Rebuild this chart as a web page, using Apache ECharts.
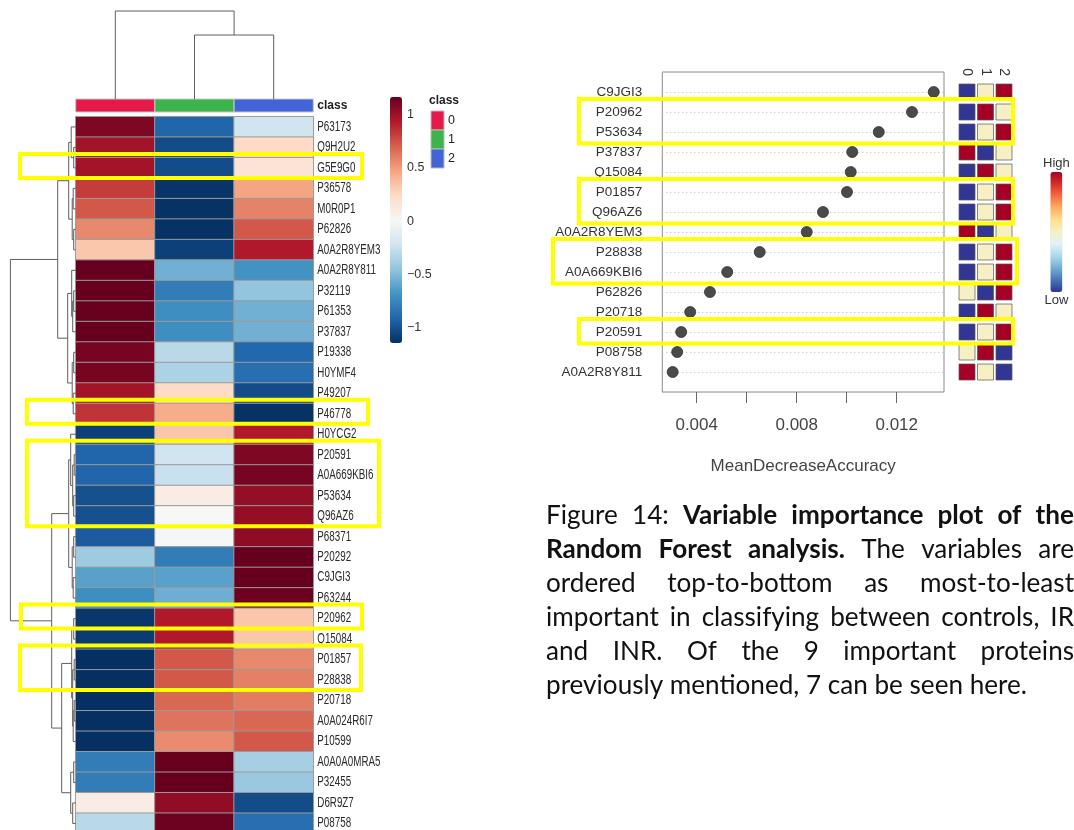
<!DOCTYPE html>
<html><head><meta charset="utf-8">
<script src="https://cdn.jsdelivr.net/npm/echarts@6/dist/echarts.min.js"></script>
<style>html,body{margin:0;padding:0;background:#fff}#c{width:1074px;height:830px}</style>
</head><body><div id="c"></div>
<script>
// ---------------- DATA ----------------
const heatRows = ['P63173','Q9H2U2','G5E9G0','P36578','M0R0P1','P62826','A0A2R8YEM3','A0A2R8Y811','P32119','P61353','P37837','P19338','H0YMF4','P49207','P46778','H0YCG2','P20591','A0A669KBI6','P53634','Q96AZ6','P68371','P20292','C9JGI3','P63244','P20962','Q15084','P01857','P28838','P20718','A0A024R6I7','P10599','A0A0A0MRA5','P32455','D6R9Z7','P08758'];
const classes = ['0','1','2'];
const heatClass0 = [1.10,0.98,0.98,0.82,0.73,0.57,0.33,1.17,1.17,1.17,1.17,1.12,1.12,0.98,0.85,-1.08,-0.92,-0.92,-1.01,-1.01,-0.96,-0.41,-0.62,-0.71,-1.12,-1.10,-1.15,-1.15,-1.15,-1.15,-1.15,-0.80,-0.80,0.10,-0.31];
const heatClass1 = [-0.92,-1.03,-1.03,-1.13,-1.14,-1.14,-1.08,-0.55,-0.80,-0.71,-0.71,-0.31,-0.36,0.24,0.44,0.33,-0.22,-0.25,0.10,0.01,0.0,-0.80,-0.62,-0.56,0.94,0.94,0.73,0.73,0.68,0.64,0.56,1.17,1.17,1.04,1.15];
const heatClass2 = [-0.22,0.24,0.17,0.47,0.59,0.73,0.94,-0.69,-0.45,-0.55,-0.55,-0.91,-0.87,-1.03,-1.14,0.94,1.10,1.12,1.03,1.03,1.05,1.17,1.17,1.15,0.33,0.33,0.57,0.60,0.61,0.68,0.73,-0.38,-0.43,-1.03,-0.87];
const colorbarTicks = [1, 0.5, 0, -0.5, -1];
// dendrograms: [height, left, right]; leaves are row/column indices
const rowTree = [65.3,
  [18,
    [7, [4.5, 0, [2, 1, 2]], [3.5, [2.5, 3, 4], [2, 5, 6]]],
    [8, [4, 7, [3, [2, 8, 9], 10]], [3.5, [2, 11, 12], [2.5, 13, 14]]]],
  [24,
    [7, [5, 15, [3, [1.5, 16, 17], [2, 18, 19]]], [3.5, [2, 20, 21], [2.5, 22, 23]]],
    [14, [4, [2, 24, 25], [3, [1.5, 26, 27], [2.5, [1.5, 28, 29], 30]]], [5, [2, 31, 32], [3, 33, 34]]]]];
const colTree = [88, 0, [64, 1, 2]];

const impVars = ['C9JGI3','P20962','P53634','P37837','Q15084','P01857','Q96AZ6','A0A2R8YEM3','P28838','A0A669KBI6','P62826','P20718','P20591','P08758','A0A2R8Y811'];
const impValues = [0.01348,0.01261,0.01128,0.01022,0.01016,0.01001,0.00905,0.0084,0.00652,0.00522,0.00453,0.00374,0.00338,0.00322,0.00304];
// rank of each class within a variable (1 = low, 2 = mid, 3 = high)
const impRank0 = [1,1,1,3,1,1,1,3,1,1,2,1,1,2,3];
const impRank1 = [2,3,2,1,3,2,2,1,2,2,1,3,2,3,2];
const impRank2 = [3,2,3,2,2,3,3,2,3,3,3,2,3,1,1];
const impTicks = [0.004,0.006,0.008,0.010,0.012];
const impTickLabels = [0.004,0.008,0.012];
const heatHighlights = [['G5E9G0','G5E9G0'],['P46778','P46778'],['P20591','Q96AZ6'],['P20962','P20962'],['P01857','P28838']];
const impHighlights = [['P20962','P53634'],['P01857','Q96AZ6'],['P28838','A0A669KBI6'],['P20591','P20591']];
const captionLines = [
  [['Figure 14:', false], ['Variable importance plot of the', true]],
  [['Random Forest analysis.', true], ['The variables are', false]],
  [['ordered top-to-bottom as most-to-least', false]],
  [['important in classifying between controls, IR', false]],
  [['and INR. Of the 9 important proteins', false]],
  [['previously mentioned, 7 can be seen here.', false]]
];

// ---------------- STYLE / LAYOUT ----------------
const classColors = ['#e6194b','#3cb44b','#4363d8'];
const RdBu = ['#053061','#2166ac','#4393c3','#92c5de','#d1e5f0','#f7f7f7','#fddbc7','#f4a582','#d6604d','#b2182b','#67001f'];
const RdYlBu = ['#313695','#4575b4','#74add1','#abd9e9','#e0f3f8','#f6f0c4','#fee090','#fdae61','#f46d43','#d73027','#a50026'];
const HM = {left:75.7, top:116.7, width:237.6, height:717};
const heatBoxX = [[20,362],[27,368],[27,379],[21,362],[20,361]];
const impBoxX = [[579,1013],[579,1013],[553,1017],[579,1013]];
const SANS = 'Liberation Sans, Arial, sans-serif';
const NARROW = 'Liberation Sans Narrow, Liberation Sans, sans-serif';

const heatData = [];
heatRows.forEach((r, i) => {
  heatData.push([0, i, heatClass0[i]], [1, i, heatClass1[i]], [2, i, heatClass2[i]]);
});
const impHeat = [];
impVars.forEach((v, i) => { impHeat.push([0, i, impRank0[i]], [1, i, impRank1[i]], [2, i, impRank2[i]]); });

function dendroSegs(node, segs) {
  if (typeof node === 'number') return {p: node, h: 0};
  const a = dendroSegs(node[1], segs), b = dendroSegs(node[2], segs), h = node[0];
  segs.push([[h, a.p], [h, b.p]]);
  segs.push([[h, a.p], [a.h, a.p]]);
  segs.push([[h, b.p], [b.h, b.p]]);
  return {p: (a.p + b.p) / 2, h: h};
}
function dendroRender(tree, swap) {
  return function (params, api) {
    const segs = []; dendroSegs(tree, segs);
    return {type: 'group', children: segs.map(s => {
      const a = swap ? [s[0][1], s[0][0]] : s[0], b = swap ? [s[1][1], s[1][0]] : s[1];
      const p1 = api.coord(a), p2 = api.coord(b);
      return {type: 'line', shape: {x1: p1[0], y1: p1[1], x2: p2[0], y2: p2[1]}, style: {stroke: '#5e5e5e', lineWidth: 1}};
    })};
  };
}
const hidden = {show: false};
const noAxis = {axisLine: {show: false, onZero: false}, axisTick: hidden, splitLine: hidden};

const option = {
  backgroundColor: '#ffffff',
  animation: false,
  grid: [
    {left: HM.left, top: HM.top, width: HM.width, height: HM.height, outerBoundsMode: 'none'},             //0 heatmap
    {left: HM.left, top: 99, width: HM.width, height: 13, outerBoundsMode: 'none'},                        //1 class bar
    {left: HM.left, top: 0, width: HM.width, height: 99, outerBoundsMode: 'none'},                         //2 top dendro
    {left: 0, top: HM.top, width: HM.left, height: HM.height, outerBoundsMode: 'none'},                    //3 left dendro
    {left: 402, top: 97, width: 1, height: 246, outerBoundsMode: 'none'},                                  //4 colorbar labels
    {left: 662.3, top: 72, width: 281.7, height: 320, show: true, borderColor: '#8a8a8a', borderWidth: 1, outerBoundsMode: 'none'}, //5 dot plot
    {left: 957.75, top: 82, width: 55.5, height: 300, outerBoundsMode: 'none'},                            //6 small heat
    {left: 431, top: 111, width: 13, height: 57, outerBoundsMode: 'none'}                                  //7 class legend
  ],
  xAxis: [
    Object.assign({type: 'category', gridIndex: 0, data: classes, axisLabel: hidden}, noAxis),
    Object.assign({type: 'category', gridIndex: 1, data: classes, axisLabel: hidden}, noAxis),
    Object.assign({type: 'value', gridIndex: 2, min: -0.5, max: 2.5, axisLabel: hidden}, noAxis),
    Object.assign({type: 'value', gridIndex: 3, min: 0, max: HM.left, inverse: true, axisLabel: hidden}, noAxis),
    Object.assign({type: 'value', gridIndex: 4, min: 0, max: 1, axisLabel: hidden}, noAxis),
    {type: 'value', gridIndex: 5, position: 'bottom', min: 0.002624, max: 0.01389, axisLine: {show: false, onZero: false}, splitLine: hidden,
      axisTick: {show: true, length: 11, lineStyle: {color: '#666', width: 1}, customValues: impTicks},
      axisLabel: {customValues: impTickLabels, formatter: v => v.toFixed(3), fontSize: 17, color: '#444', margin: 25, fontFamily: SANS},
      name: 'MeanDecreaseAccuracy', nameLocation: 'middle', nameGap: 66, nameTextStyle: {fontSize: 17, color: '#444', fontFamily: SANS}},
    Object.assign({type: 'category', gridIndex: 6, data: classes, position: 'top',
      axisLabel: {rotate: 90, fontSize: 14, color: '#333', margin: 6, fontFamily: SANS}}, noAxis),
    Object.assign({type: 'category', gridIndex: 7, data: ['k'], axisLabel: hidden}, noAxis)
  ],
  yAxis: [
    Object.assign({type: 'category', gridIndex: 0, data: heatRows, inverse: true, axisLabel: hidden}, noAxis),
    Object.assign({type: 'category', gridIndex: 1, data: ['class'], position: 'right',
      axisLabel: {fontSize: 12, fontWeight: 'bold', color: '#222', margin: 4, fontFamily: NARROW}}, noAxis),
    Object.assign({type: 'value', gridIndex: 2, min: 0, max: 99, axisLabel: hidden}, noAxis),
    Object.assign({type: 'value', gridIndex: 3, min: -0.5, max: heatRows.length - 0.5, inverse: true, axisLabel: hidden}, noAxis),
    Object.assign({type: 'value', gridIndex: 4, min: -1.15, max: 1.17, position: 'right',
      axisLabel: {customValues: colorbarTicks, formatter: v => String(v).replace('-', '\u2212'), fontSize: 12.5, color: '#333', margin: 4,
        fontFamily: NARROW}}, noAxis),
    {type: 'value', gridIndex: 5, min: -1, max: impVars.length, interval: 1, inverse: true, axisLine: {show: false, onZero: false}, axisTick: hidden,
      splitLine: {show: true, lineStyle: {color: '#bdbdbd', type: [1, 3], width: 1}},
      axisLabel: {formatter: v => impVars[v] || '', fontSize: 13.5, color: '#333', margin: 20, fontFamily: SANS}},
    Object.assign({type: 'category', gridIndex: 6, data: impVars, inverse: true, axisLabel: hidden}, noAxis),
    Object.assign({type: 'category', gridIndex: 7, data: classes, inverse: true, position: 'right',
      axisLabel: {fontSize: 12.5, color: '#222', margin: 4, fontFamily: NARROW},
      name: 'class', nameLocation: 'start', nameGap: 4,
      nameTextStyle: {fontWeight: 'bold', fontSize: 12, color: '#222', fontFamily: NARROW}}, noAxis)
  ],
  visualMap: [
    {type: 'continuous', seriesIndex: 0, dimension: 2, min: -1.15, max: 1.17, left: 390, top: 97, itemWidth: 12, itemHeight: 246,
      padding: 0, calculable: false, hoverLink: false, inRange: {color: RdBu}, textStyle: {fontSize: 0}},
    {type: 'continuous', seriesIndex: 6, dimension: 2, min: 1, max: 3, left: 1043, top: 157, itemWidth: 12, itemHeight: 120,
      padding: 0, calculable: false, hoverLink: false, text: ['High', 'Low'], textGap: 2, inRange: {color: RdYlBu},
      textStyle: {fontSize: 13, color: '#333', fontFamily: SANS}}
  ],
  series: [
    {type: 'heatmap', xAxisIndex: 0, yAxisIndex: 0, data: heatData, itemStyle: {borderColor: '#9a9a9a', borderWidth: 1}, emphasis: {disabled: true}},
    {type: 'custom', xAxisIndex: 0, yAxisIndex: 0, data: heatRows.map((r, i) => [2, i]),
      renderItem: (params, api) => {
        const c = api.coord([api.value(0), api.value(1)]);
        const x = params.coordSys.x + params.coordSys.width + 4;
        return {type: 'text', x: x, y: c[1], scaleX: 0.7,
          style: {text: heatRows[api.value(1)], x: 0, y: 0, verticalAlign: 'middle', align: 'left', fill: '#2a2a2a', fontSize: 14, fontFamily: SANS}};
      }},
    {type: 'custom', xAxisIndex: 1, yAxisIndex: 1, data: classes.map((c, i) => [i, 0]),
      renderItem: (params, api) => {
        const c = api.coord([api.value(0), api.value(1)]), s = api.size([1, 1]);
        return {type: 'rect', shape: {x: c[0] - s[0] / 2, y: c[1] - s[1] / 2, width: s[0], height: s[1]},
          style: {fill: classColors[api.value(0)], stroke: '#c8c8c8', lineWidth: 1}};
      }},
    {type: 'custom', xAxisIndex: 2, yAxisIndex: 2, data: [[0, 0]], renderItem: dendroRender(colTree, true)},
    {type: 'custom', xAxisIndex: 3, yAxisIndex: 3, data: [[0, 0]], renderItem: dendroRender(rowTree, false)},
    {type: 'scatter', xAxisIndex: 5, yAxisIndex: 5, data: impValues.map((v, i) => [v, i]), symbolSize: 11,
      itemStyle: {color: '#4a4a4a', borderColor: '#333', borderWidth: 0.8, opacity: 1}, emphasis: {disabled: true}},
    {type: 'custom', xAxisIndex: 6, yAxisIndex: 6, data: impHeat, encode: {x: 0, y: 1},
      renderItem: (params, api) => {
        const c = api.coord([api.value(0), api.value(1)]);
        return {type: 'rect', shape: {x: c[0] - 8, y: c[1] - 8, width: 16, height: 16},
          style: {fill: api.visual('color'), stroke: '#555', lineWidth: 1, strokeOpacity: 0.7}};
      }},
    {type: 'custom', xAxisIndex: 7, yAxisIndex: 7, data: classes.map((c, i) => [0, i]),
      renderItem: (params, api) => {
        const c = api.coord([api.value(0), api.value(1)]), s = api.size([1, 1]);
        return {type: 'rect', shape: {x: c[0] - s[0] / 2, y: c[1] - s[1] / 2, width: s[0], height: s[1]},
          style: {fill: classColors[api.value(1)], stroke: '#bbb', lineWidth: 1}};
      }}
  ]
};

const chart = echarts.init(document.getElementById('c'), null, {renderer: 'canvas'});
chart.setOption(option);

// ---------------- annotations ----------------
const graphics = [];
heatHighlights.forEach((h, k) => {
  const y1 = chart.convertToPixel({yAxisIndex: 3}, heatRows.indexOf(h[0])) - 14;
  const y2 = chart.convertToPixel({yAxisIndex: 3}, heatRows.indexOf(h[1])) + 10;
  graphics.push({type: 'rect', z: 100, shape: {x: heatBoxX[k][0], y: y1, width: heatBoxX[k][1] - heatBoxX[k][0], height: y2 - y1},
    style: {fill: 'none', stroke: '#ffff00', lineWidth: 4}});
});
impHighlights.forEach((h, k) => {
  const y1 = chart.convertToPixel({yAxisIndex: 5}, impVars.indexOf(h[0])) - 13;
  const y2 = chart.convertToPixel({yAxisIndex: 5}, impVars.indexOf(h[1])) + 11.5;
  graphics.push({type: 'rect', z: 100, shape: {x: impBoxX[k][0], y: y1, width: impBoxX[k][1] - impBoxX[k][0], height: y2 - y1},
    style: {fill: 'none', stroke: '#ffff00', lineWidth: 4}});
});

// caption (justified)
const CAP = {left: 546, right: 1074, baseline: 524, gap: 34, family: 'Lato, Carlito, sans-serif', lastWidth: 481};
const mctx = document.createElement('canvas').getContext('2d');
function tw(t, bold, fs) { mctx.font = (bold ? 'bold ' : '') + fs + 'px ' + CAP.family; return mctx.measureText(t).width; }
const lastText = captionLines[captionLines.length - 1][0][0];
const fs = 26 * CAP.lastWidth / tw(lastText, false, 26);
captionLines.forEach((line, li) => {
  const words = [];
  line.forEach(seg => seg[0].split(' ').forEach(w => words.push([w, seg[1]])));
  const widths = words.map(w => tw(w[0], w[1], fs));
  const total = widths.reduce((a, b) => a + b, 0);
  const isLast = li === captionLines.length - 1;
  const space = isLast ? tw(' ', false, fs) : (CAP.right - CAP.left - total) / (words.length - 1);
  let x = CAP.left;
  const yc = CAP.baseline + li * CAP.gap - 0.34 * fs;
  words.forEach((w, i) => {
    graphics.push({type: 'text', x: x, y: yc, style: {text: w[0], fontSize: fs, fontWeight: w[1] ? 'bold' : 'normal',
      fontFamily: CAP.family, fill: '#111', verticalAlign: 'middle', align: 'left'}});
    x += widths[i] + space;
  });
});
chart.setOption({graphic: graphics});
</script>
</body></html>
